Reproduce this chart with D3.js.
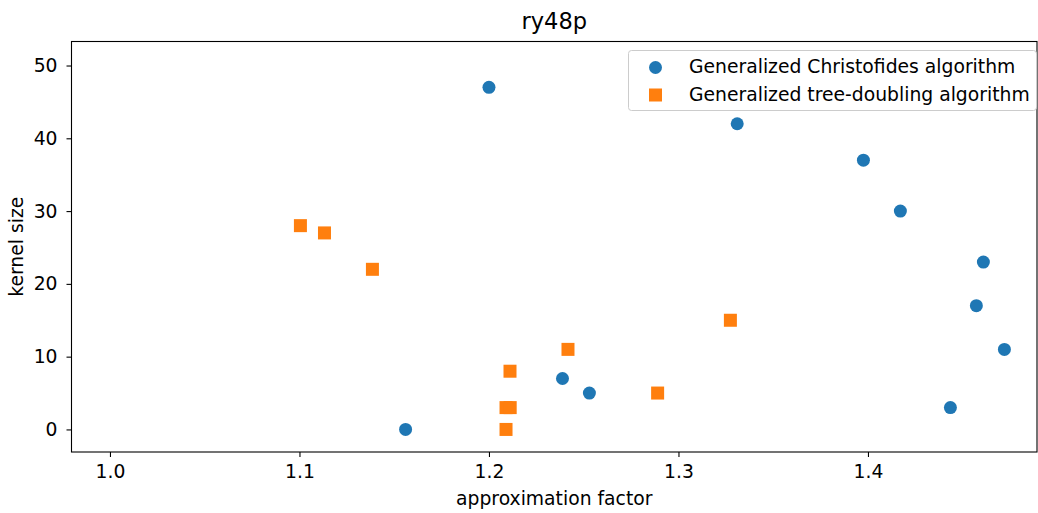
<!DOCTYPE html>
<html>
<head>
<meta charset="utf-8">
<script src="https://cdn.jsdelivr.net/npm/d3@7"></script>
<style>
  body { margin: 0; background: #fff; }
  text { font-family: "DejaVu Sans", sans-serif; fill: #000; }
</style>
</head>
<body>
<div id="chart"></div>
<script>
const christofidesX = [1.200, 1.331, 1.3976, 1.4171, 1.4609, 1.4572, 1.472, 1.4435, 1.2388, 1.253, 1.156];
const christofidesY = [47, 42, 37, 30, 23, 17, 11, 3, 7, 5, 0];
const treeX = [1.1005, 1.1132, 1.1385, 1.3274, 1.2417, 1.2111, 1.2090, 1.2112, 1.2090, 1.289];
const treeY = [28, 27, 22, 15, 11, 8, 3, 3, 0, 5];
const xTicks = [1.0, 1.1, 1.2, 1.3, 1.4];
const yTicks = [0, 10, 20, 30, 40, 50];
const seriesNames = ["Generalized Christofides algorithm", "Generalized tree-doubling algorithm"];
const colors = ["#1f77b4", "#ff7f0e"];

const W = 1038, H = 513;
const margin = { top: 41.5, right: 1, bottom: 61, left: 71.5 };
const width = W - margin.left - margin.right;
const height = H - margin.top - margin.bottom;
const fontSize = "18.75px";

const svg = d3.select("#chart").append("svg")
  .attr("width", W)
  .attr("height", H);

const g = svg.append("g")
  .attr("transform", `translate(${margin.left},${margin.top})`);

const x = d3.scaleLinear().domain([0.9797, 1.4892]).range([0, width]);
const y = d3.scaleLinear().domain([-3.1, 53.3]).range([height, 0]);

// axes
const xAxis = g.append("g")
  .attr("transform", `translate(0,${height})`)
  .call(d3.axisBottom(x).tickValues(xTicks).tickFormat(d3.format(".1f")).tickSize(5).tickPadding(8));
const yAxis = g.append("g")
  .call(d3.axisLeft(y).tickValues(yTicks).tickFormat(d3.format("d")).tickSize(5).tickPadding(9));

[xAxis, yAxis].forEach(a => {
  a.select(".domain").remove();
  a.selectAll("line").attr("stroke", "#000").attr("stroke-width", 1.1);
  a.selectAll("text")
    .style("font-size", fontSize)
    .style("font-family", "DejaVu Sans, sans-serif");
});

g.append("rect")
  .attr("width", width)
  .attr("height", height)
  .attr("fill", "none")
  .attr("stroke", "#000")
  .attr("stroke-width", 1.1);

// points
const blue = christofidesX.map((d, i) => ({ x: d, y: christofidesY[i] }));
const orange = treeX.map((d, i) => ({ x: d, y: treeY[i] }));

g.append("g").selectAll("circle")
  .data(blue)
  .enter().append("circle")
    .attr("cx", d => x(d.x))
    .attr("cy", d => y(d.y))
    .attr("r", 6.5)
    .attr("fill", colors[0]);

const sq = 13;
g.append("g").selectAll("rect")
  .data(orange)
  .enter().append("rect")
    .attr("x", d => x(d.x) - sq / 2)
    .attr("y", d => y(d.y) - sq / 2)
    .attr("width", sq)
    .attr("height", sq)
    .attr("fill", colors[1]);

// labels
svg.append("text")
  .attr("x", margin.left + width / 2)
  .attr("y", 29)
  .attr("text-anchor", "middle")
  .style("font-size", "22.5px")
  .text("ry48p");

svg.append("text")
  .attr("x", margin.left + width / 2)
  .attr("y", 505)
  .attr("text-anchor", "middle")
  .style("font-size", fontSize)
  .text("approximation factor");

svg.append("text")
  .attr("transform", `translate(23,${margin.top + height / 2}) rotate(-90)`)
  .attr("text-anchor", "middle")
  .style("font-size", fontSize)
  .text("kernel size");

// legend
const legend = svg.append("g").attr("transform", "translate(628.5,50.5)");
legend.append("rect")
  .attr("width", 408)
  .attr("height", 60)
  .attr("rx", 3)
  .attr("fill", "#fff")
  .attr("fill-opacity", 0.8)
  .attr("stroke", "#ccc");

legend.append("circle")
  .attr("cx", 27).attr("cy", 17).attr("r", 6.5).attr("fill", colors[0]);
legend.append("rect")
  .attr("x", 27 - sq / 2).attr("y", 44.5 - sq / 2).attr("width", sq).attr("height", sq).attr("fill", colors[1]);

seriesNames.forEach((name, i) => {
  legend.append("text")
    .attr("x", 60.5)
    .attr("y", 22 + i * 28)
    .style("font-size", fontSize)
    .text(name);
});
</script>
</body>
</html>
